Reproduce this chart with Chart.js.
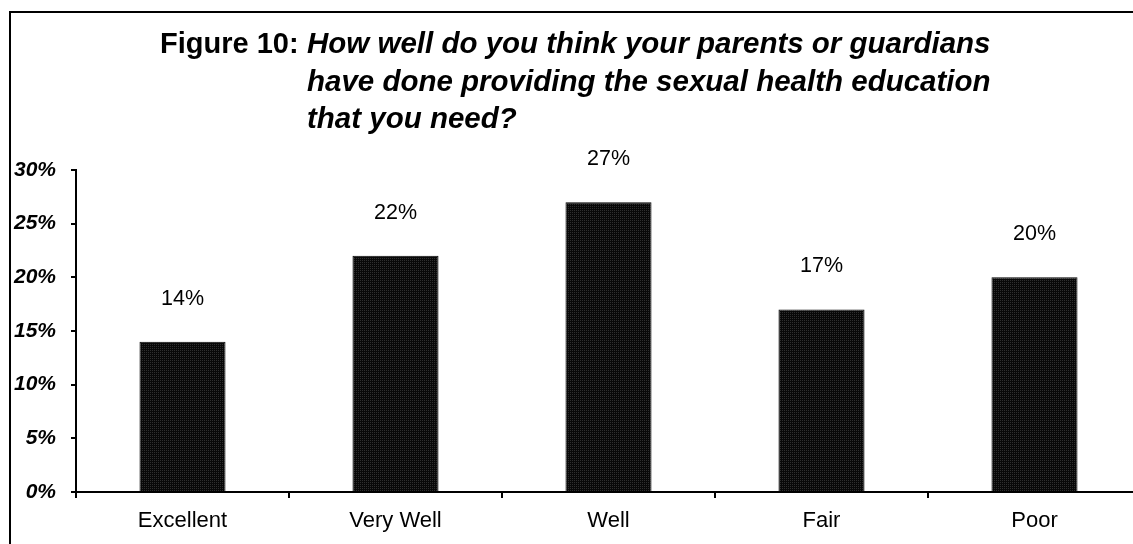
<!DOCTYPE html>
<html>
  <head>
    <title>Figure 10</title>
    <script src="https://cdn.jsdelivr.net/npm/chart.js"></script>
    <style>
      body,
      html {
        margin: 0;
        width: 100%;
        height: 100%;
        overflow: hidden;
        background-color: white;
      }
      #frame {
        position: absolute;
        left: 9px;
        top: 11px;
        width: 1300px;
        height: 700px;
        border: 2px solid black;
      }
      #wrap {
        position: absolute;
        left: 0;
        top: 0;
        width: 1160px;
        height: 544px;
      }
    </style>
  </head>
  <body>
    <div id="frame"></div>
    <div id="wrap">
      <canvas id="chartCanvas"></canvas>
    </div>
    <script>
      const categories = ["Excellent", "Very Well", "Well", "Fair", "Poor"];
      const percents = [14, 22, 27, 17, 20];
      const yTicks = [0, 5, 10, 15, 20, 25, 30];
      const figureLabel = "Figure 10:";
      const questionLines = [
        "How well do you think your parents or guardians",
        "have done providing the sexual health education",
        "that you need?",
      ];

      const FONT = '"Liberation Sans", Arial, sans-serif';

      // fine dotted black fill for the bars
      function dotPattern() {
        const c = document.createElement("canvas");
        c.width = 2;
        c.height = 2;
        const g = c.getContext("2d");
        g.fillStyle = "#080808";
        g.fillRect(0, 0, 2, 2);
        g.fillStyle = "#2e2e2e";
        g.fillRect(0, 0, 1, 1);
        return g.createPattern(c, "repeat");
      }

      // title drawn on the canvas: "Figure 10:" upright, question in italics
      const titlePlugin = {
        id: "figureTitle",
        afterDraw(chart) {
          const ctx = chart.ctx;
          ctx.save();
          ctx.fillStyle = "#000";
          ctx.textBaseline = "alphabetic";
          ctx.textAlign = "left";
          ctx.font = "bold 29px " + FONT;
          ctx.fillText(figureLabel, 160, 53);
          ctx.font = "italic bold 29.5px " + FONT;
          questionLines.forEach((line, i) => {
            ctx.fillText(line, 307, 53 + i * 37.5);
          });
          ctx.restore();
        },
      };

      // percentage labels above each bar
      const valueLabels = {
        id: "valueLabels",
        afterDatasetsDraw(chart) {
          const ctx = chart.ctx;
          const meta = chart.getDatasetMeta(0);
          ctx.save();
          ctx.fillStyle = "#000";
          ctx.font = "21.5px " + FONT;
          ctx.textAlign = "center";
          ctx.textBaseline = "middle";
          meta.data.forEach((bar, i) => {
            ctx.fillText(percents[i] + "%", bar.x, bar.y - 43);
          });
          ctx.restore();
        },
      };

      var ctx = document.getElementById("chartCanvas");

      var chart = new Chart(ctx, {
        type: "bar",
        data: {
          labels: categories,
          datasets: [
            {
              data: percents,
              backgroundColor: dotPattern(),
              borderColor: "#000",
              borderWidth: 1,
              categoryPercentage: 1,
              barPercentage: 0.404,
            },
          ],
        },
        options: {
          responsive: true,
          maintainAspectRatio: false,
          animation: false,
          layout: {
            padding: { top: 170, left: 0, right: 19, bottom: 0 },
          },
          scales: {
            x: {
              afterFit(scale) {
                scale.height = 52;
              },
              grid: {
                offset: true,
                drawOnChartArea: false,
                tickLength: 6,
                color: "#000",
                lineWidth: 2,
              },
              border: { color: "#000", width: 2 },
              ticks: {
                color: "#000",
                padding: 10,
                font: { family: FONT, size: 22 },
              },
            },
            y: {
              min: 0,
              max: 30,
              afterFit(scale) {
                scale.width = 76;
              },
              afterBuildTicks(scale) {
                scale.ticks = yTicks.map((v) => ({ value: v }));
              },
              grid: {
                drawOnChartArea: false,
                tickLength: 5,
                color: "#000",
                lineWidth: 2,
              },
              border: { color: "#000", width: 2 },
              ticks: {
                color: "#000",
                padding: 15,
                font: { family: FONT, size: 21, style: "italic", weight: "bold" },
                callback: (v) => v + "%",
              },
            },
          },
          plugins: {
            legend: { display: false },
            tooltip: { enabled: false },
          },
        },
        plugins: [titlePlugin, valueLabels],
      });
    </script>
  </body>
</html>
